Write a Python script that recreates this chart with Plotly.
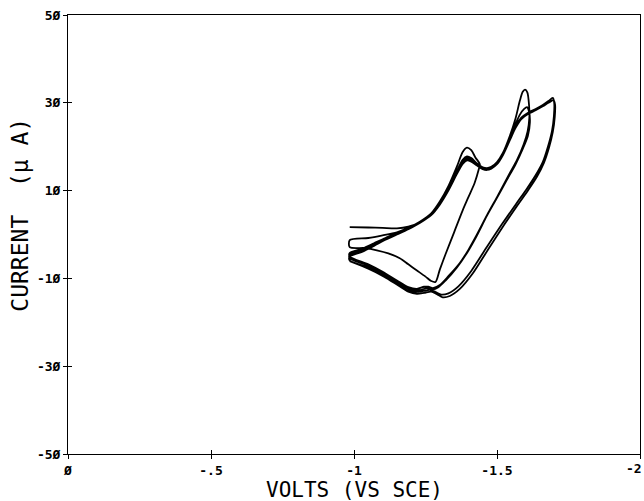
import plotly.graph_objects as go

# ---- data: cyclic voltammogram, 5 consecutive sweeps (V vs SCE, current in uA)
c1_v = [-0.985, -1.05, -1.10, -1.15, -1.19, -1.23, -1.27, -1.30, -1.33, -1.36, -1.38, -1.395, -1.41, -1.425, -1.44,
        -1.436, -1.422, -1.40, -1.38, -1.35, -1.32, -1.30, -1.285, -1.27, -1.25, -1.22, -1.19, -1.16, -1.12, -1.08, -1.04, -0.985]
c1_i = [1.7, 1.6, 1.5, 1.4, 1.8, 2.8, 4.8, 7.5, 11.0, 15.5, 18.8, 19.8, 19.2, 17.5, 16.0,
        14.8, 11.8, 8.5, 5.5, 0.5, -4.5, -8.0, -10.8, -10.6, -9.6, -8.2, -6.8, -5.4, -4.3, -3.6, -3.1, -2.9]

c2_v = [-0.985, -1.05, -1.10, -1.15, -1.19, -1.23, -1.27, -1.30, -1.33, -1.36, -1.38, -1.395, -1.41, -1.43, -1.45, -1.465,
        -1.48, -1.50, -1.52, -1.545, -1.565, -1.58, -1.59, -1.598,
        -1.606, -1.612, -1.613, -1.607, -1.593, -1.57, -1.545, -1.50, -1.47, -1.43, -1.40, -1.37, -1.33, -1.30, -1.276,
        -1.26, -1.245, -1.22, -1.19, -1.15, -1.10, -1.05, -0.985]
c2_i = [-1.3, -0.8, -0.2, 0.5, 1.5, 2.9, 4.8, 7.2, 10.5, 14.5, 17.0, 17.8, 17.4, 16.2, 15.3, 15.1,
        15.4, 16.5, 18.5, 22.5, 26.5, 30.5, 32.5, 33.0,
        32.4, 29.5, 26.5, 23.5, 20.5, 17.0, 14.0, 8.5, 5.0, 0.0, -3.5, -6.5, -9.5, -11.5, -12.2,
        -11.9, -11.9, -12.4, -12.0, -10.5, -8.5, -6.8, -5.0]

c3_v = [-0.985, -1.03, -1.07, -1.11, -1.15, -1.19, -1.23, -1.27, -1.30, -1.33, -1.36, -1.38, -1.395, -1.41, -1.43, -1.45,
        -1.465, -1.48, -1.50, -1.52, -1.545, -1.565, -1.58, -1.595, -1.605,
        -1.612, -1.615, -1.608, -1.59, -1.565, -1.535, -1.495, -1.465, -1.425, -1.395, -1.36, -1.32, -1.295, -1.275,
        -1.255, -1.235, -1.21, -1.18, -1.14, -1.10, -1.05, -0.985]
c3_i = [-4.2, -3.2, -2.0, -0.8, 0.3, 1.4, 2.8, 4.6, 7.0, 10.3, 14.2, 16.6, 17.4, 17.0, 15.9, 15.1,
        14.9, 15.2, 16.3, 18.3, 22.0, 25.2, 27.3, 28.6, 29.0,
        28.0, 25.5, 22.5, 19.5, 16.0, 12.5, 7.8, 4.3, -0.8, -4.2, -7.5, -10.5, -12.0, -12.5,
        -12.2, -12.6, -12.7, -12.0, -10.4, -8.8, -7.1, -5.4]

c4_v = [-0.985, -1.03, -1.07, -1.11, -1.15, -1.19, -1.23, -1.27, -1.30, -1.33, -1.36, -1.38, -1.395, -1.41, -1.43, -1.45,
        -1.465, -1.48, -1.50, -1.52, -1.545, -1.565, -1.585, -1.61, -1.635, -1.66, -1.68, -1.695,
        -1.700, -1.699, -1.692, -1.678, -1.66, -1.635, -1.605, -1.565, -1.52, -1.465, -1.41, -1.365, -1.33, -1.305,
        -1.285, -1.265, -1.24, -1.215, -1.185, -1.15, -1.10, -1.05, -0.985]
c4_i = [-4.6, -3.6, -2.3, -1.0, 0.2, 1.3, 2.7, 4.5, 6.9, 10.1, 14.0, 16.3, 17.1, 16.8, 15.8, 15.0,
        14.8, 15.1, 16.2, 18.2, 21.8, 24.6, 26.6, 27.8, 28.6, 29.5, 30.4, 31.1,
        30.0, 27.0, 23.5, 20.0, 16.5, 13.5, 10.5, 6.8, 2.6, -2.8, -8.3, -11.8, -13.4, -13.7,
        -13.1, -12.6, -12.9, -13.1, -12.6, -11.2, -9.2, -7.5, -5.9]

c5_v = [-0.985, -1.03, -1.07, -1.11, -1.15, -1.19, -1.23, -1.27, -1.30, -1.33, -1.36, -1.38, -1.395, -1.41, -1.43, -1.45,
        -1.465, -1.48, -1.50, -1.52, -1.545, -1.565, -1.585, -1.61, -1.635, -1.66, -1.68, -1.697,
        -1.703, -1.702, -1.695, -1.682, -1.664, -1.64, -1.61, -1.57, -1.525, -1.47, -1.415, -1.37, -1.335, -1.31,
        -1.29, -1.27, -1.245, -1.22, -1.19, -1.155, -1.105, -1.05, -0.985]
c5_i = [-5.0, -3.9, -2.6, -1.2, 0.0, 1.2, 2.6, 4.4, 6.8, 10.0, 13.8, 16.1, 16.9, 16.6, 15.7, 14.9,
        14.7, 15.0, 16.0, 18.0, 21.5, 24.3, 26.3, 27.5, 28.3, 29.2, 30.0, 30.6,
        29.6, 26.8, 23.3, 19.8, 16.3, 13.2, 10.2, 6.5, 2.2, -3.3, -8.9, -12.4, -14.0, -14.3,
        -13.6, -13.0, -13.3, -13.5, -13.0, -11.6, -9.6, -7.8, -6.1]

x_tick_vals = [0, -0.5, -1, -1.5, -2]
x_tick_text = ["\u00d8", "-.5", "-1", "-1.5", "-2"]
y_tick_vals = [50, 30, 10, -10, -30, -50]
y_tick_text = ["5\u00d8", "3\u00d8", "1\u00d8", "-1\u00d8", "-3\u00d8", "-5\u00d8"]

x_title = "VOLTS (VS SCE)"
y_title = "CURRENT\u00a0\u00a0(\u03bc\u00a0A)"

volts = c1_v + c2_v + c3_v + c4_v + c5_v
current = c1_i + c2_i + c3_i + c4_i + c5_i

fig = go.Figure()
fig.add_trace(go.Scatter(x=volts, y=current, mode="lines",
                         line=dict(color="black", width=1.8, shape="spline", smoothing=0.8),
                         hoverinfo="skip"))
# empty trace so that the overlay axes (inner half of the crossing ticks) are drawn
fig.add_trace(go.Scatter(x=[], y=[], xaxis="x2", yaxis="y2", hoverinfo="skip"))

tick_font = dict(family="DejaVu Sans Mono", size=13, color="black", weight="bold")

# the last x label sits at the right edge: draw it right-aligned so it stays inside the page
x_axis_text = x_tick_text[:-1] + [""]
edge_label = dict(text=x_tick_text[-1], xref="x", yref="paper", x=x_tick_vals[-1], y=-0.034,
                  xanchor="right", yanchor="middle", xshift=4, showarrow=False, font=tick_font)

fig.update_layout(
    width=644, height=501,
    margin=dict(l=68, r=4, t=15, b=47, autoexpand=False),
    paper_bgcolor="white", plot_bgcolor="white",
    showlegend=False,
    xaxis=dict(range=[0, -2], tickvals=x_tick_vals, ticktext=x_axis_text,
               ticks="outside", ticklen=4, tickwidth=1, tickcolor="black",
               automargin=False,
               showline=True, linecolor="black", linewidth=1, mirror=True,
               showgrid=False, zeroline=False, tickfont=tick_font),
    yaxis=dict(range=[-50, 50], tickvals=y_tick_vals, ticktext=y_tick_text,
               ticks="outside", ticklen=4, tickwidth=1, tickcolor="black",
               ticklabeloverflow="allow", automargin=False,
               showline=True, linecolor="black", linewidth=1, mirror=True,
               showgrid=False, zeroline=False, tickfont=tick_font),
    xaxis2=dict(overlaying="x", range=[0, -2], tickvals=x_tick_vals, automargin=False,
                ticks="inside", ticklen=4, tickwidth=1, tickcolor="black",
                showticklabels=False, showline=False, showgrid=False, zeroline=False),
    yaxis2=dict(overlaying="y", range=[-50, 50], tickvals=y_tick_vals, automargin=False,
                ticks="inside", ticklen=4, tickwidth=1, tickcolor="black",
                showticklabels=False, showline=False, showgrid=False, zeroline=False),
    annotations=[
        edge_label,
        dict(text=x_title, xref="paper", yref="paper", x=0.5, y=-0.083,
             xanchor="center", yanchor="middle", showarrow=False,
             font=dict(family="DejaVu Sans Mono", size=21, color="black")),
        dict(text=y_title, xref="paper", yref="paper", x=-0.084, y=0.545,
             xanchor="center", yanchor="middle", showarrow=False, textangle=-90,
             font=dict(family="DejaVu Sans Mono", size=23, color="black")),
    ],
)

fig.write_html("out.html")
